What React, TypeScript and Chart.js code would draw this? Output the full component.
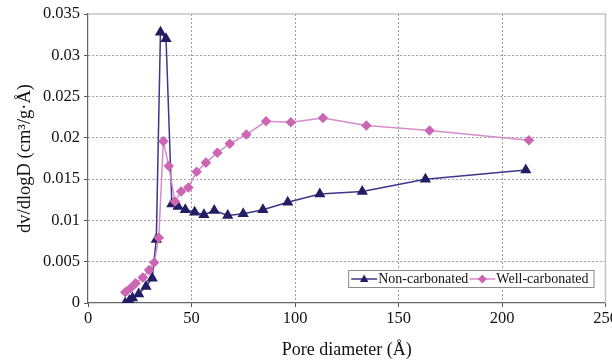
import React, { useEffect, useRef } from "react";
import { Chart, registerables } from "chart.js";

Chart.register(...registerables);

const seriesNames = ["Non-carbonated", "Well-carbonated"];
const xTitle = "Pore diameter (Å)";
const yTitle = "dv/dlogD (cm³/g·Å)";

const nonCarbX = [18, 20, 21.5, 24.5, 28, 31, 33, 35, 37.7, 40.5, 43.5, 47, 51.5, 56, 61, 67.5, 75, 84.5, 96.5, 112, 132.5, 163, 211.5];
const nonCarbY = [0, 0.0003, 0.0006, 0.0011, 0.002, 0.003, 0.0077, 0.0328, 0.032, 0.012, 0.0117, 0.0113, 0.011, 0.0107, 0.0112, 0.0106, 0.0108, 0.0113, 0.0122, 0.0132, 0.0135, 0.015, 0.0161];

const wellCarbX = [18, 20.5, 23, 26.5, 29.5, 32, 34.2, 36.4, 39, 42, 45, 48.5, 52.5, 57, 62.5, 68.5, 76.5, 86, 98, 113.5, 134.5, 165, 213];
const wellCarbY = [0.0013, 0.0018, 0.0024, 0.0031, 0.004, 0.0049, 0.0079, 0.0196, 0.0166, 0.0123, 0.0135, 0.014, 0.0159, 0.017, 0.0182, 0.0193, 0.0204, 0.022, 0.0219, 0.0224, 0.0215, 0.0209, 0.0197];

const xTickLabels = ["0", "50", "100", "150", "200", "250"];
const yTickLabels = ["0", "0.005", "0.01", "0.015", "0.02", "0.025", "0.03", "0.035"];

const NAVY = "#231E63";
const NAVY_LINE = "#3B3789";
const PINK = "#CC66B3";
const PINK_LINE = "#D68CC8";
const FONT = '"Liberation Serif", "Times New Roman", serif';

function drawMarker(ctx: CanvasRenderingContext2D, kind: string, x: number, y: number, r: number, color: string) {
  ctx.save();
  ctx.fillStyle = color;
  ctx.beginPath();
  if (kind === "triangle") {
    ctx.moveTo(x, y - r);
    ctx.lineTo(x + r * 0.95, y + r * 0.65);
    ctx.lineTo(x - r * 0.95, y + r * 0.65);
  } else {
    ctx.moveTo(x, y - r);
    ctx.lineTo(x + r, y);
    ctx.lineTo(x, y + r);
    ctx.lineTo(x - r, y);
  }
  ctx.closePath();
  ctx.fill();
  ctx.restore();
}

const framePlugin = {
  id: "frameAndLegend",
  beforeDatasetsDraw(chart: any) {
    const { ctx, chartArea: a } = chart;
    ctx.save();
    ctx.strokeStyle = "#C4C4C4";
    ctx.lineWidth = 1.5;
    ctx.beginPath();
    ctx.moveTo(a.left, a.top);
    ctx.lineTo(a.right, a.top);
    ctx.lineTo(a.right, a.bottom);
    ctx.stroke();
    ctx.restore();
  },
  afterDraw(chart: any) {
    const { ctx, chartArea: a } = chart;
    ctx.save();
    ctx.font = `14px ${FONT}`;
    const sw = 28;
    const w1 = ctx.measureText(seriesNames[0]).width;
    const w2 = ctx.measureText(seriesNames[1]).width;
    const total = 3 + sw + w1 + sw + w2 + 4;
    const right = a.right - 12;
    const bottom = a.bottom - 16;
    const top = bottom - 17;
    const left = right - total;
    ctx.fillStyle = "#FFFFFF";
    ctx.fillRect(left, top, total, bottom - top);
    ctx.strokeStyle = "#8A8A8A";
    ctx.lineWidth = 1;
    ctx.strokeRect(left + 0.5, top + 0.5, total, bottom - top);
    const cy = (top + bottom) / 2 + 0.5;
    const items = [
      { name: seriesNames[0], w: w1, line: NAVY_LINE, color: NAVY, kind: "triangle" },
      { name: seriesNames[1], w: w2, line: PINK_LINE, color: PINK, kind: "diamond" },
    ];
    let x = left + 3;
    for (const it of items) {
      ctx.strokeStyle = it.line;
      ctx.lineWidth = 1.5;
      ctx.beginPath();
      ctx.moveTo(x, cy);
      ctx.lineTo(x + sw - 2, cy);
      ctx.stroke();
      drawMarker(ctx, it.kind, x + (sw - 2) / 2, cy, 4.5, it.color);
      x += sw - 1;
      ctx.fillStyle = "#111111";
      ctx.textBaseline = "middle";
      ctx.textAlign = "left";
      ctx.fillText(it.name, x, cy);
      x += it.w + 1;
    }
    ctx.restore();
  },
};

export default function App() {
  const ref = useRef<HTMLCanvasElement | null>(null);

  useEffect(() => {
    if (!ref.current) return;
    const chart = new Chart(ref.current, {
      type: "line",
      data: {
        datasets: [
          {
            label: seriesNames[0],
            data: nonCarbX.map((x, i) => ({ x, y: nonCarbY[i] })),
            borderColor: NAVY_LINE,
            backgroundColor: NAVY,
            pointBackgroundColor: NAVY,
            pointBorderColor: NAVY,
            pointStyle: "triangle",
            pointRadius: 5,
            borderWidth: 1.5,
            tension: 0,
            order: 1,
          },
          {
            label: seriesNames[1],
            data: wellCarbX.map((x, i) => ({ x, y: wellCarbY[i] })),
            borderColor: PINK_LINE,
            backgroundColor: PINK,
            pointBackgroundColor: PINK,
            pointBorderColor: PINK,
            pointStyle: "rectRot",
            pointRadius: 4.2,
            borderWidth: 1.5,
            tension: 0,
            order: 0,
          },
        ],
      },
      options: {
        animation: false,
        responsive: false,
        maintainAspectRatio: false,
        layout: { padding: { top: 14, right: 5, left: 0, bottom: 0 } },
        plugins: {
          legend: { display: false },
          tooltip: { enabled: false },
        },
        scales: {
          x: {
            type: "linear",
            min: 0,
            max: 250,
            ticks: {
              stepSize: 50,
              color: "#111",
              font: { family: FONT, size: 16.5 },
              padding: 2,
              maxRotation: 0,
              callback: (_v: any, i: number) => xTickLabels[i],
            },
            grid: {
              color: (c: any) => (c.tick && (c.tick.value === 250 || c.tick.value === 0) ? "rgba(0,0,0,0)" : "#9A9A9A"),
              lineWidth: 1,
              tickLength: 4,
              tickColor: "#555",
              tickBorderDash: [4, 0],
            } as any,
            border: { display: true, color: "#666", width: 1.2, dash: [2, 2] },
            title: {
              display: true,
              text: xTitle,
              color: "#111",
              font: { family: FONT, size: 18 },
              padding: { top: 0, bottom: 2 },
            },
            afterFit: (s: any) => {
              s.height = 60;
              s.paddingLeft = 0;
              s.paddingRight = 0;
            },
          },
          y: {
            type: "linear",
            min: 0,
            max: 0.035,
            ticks: {
              stepSize: 0.005,
              color: "#111",
              font: { family: FONT, size: 16.5 },
              padding: 4,
              callback: (_v: any, i: number) => yTickLabels[i],
            },
            grid: {
              color: (c: any) => (c.tick && (c.index === 7 || c.index === 0) ? "rgba(0,0,0,0)" : "#9A9A9A"),
              lineWidth: 1,
              tickLength: 4,
              tickColor: "#555",
              tickBorderDash: [4, 0],
            } as any,
            border: { display: true, color: "#666", width: 1.2, dash: [2, 2] },
            title: {
              display: true,
              text: yTitle,
              color: "#111",
              font: { family: FONT, size: 18.5 },
              padding: { top: 14, bottom: 0 },
            },
            afterFit: (s: any) => {
              s.width = 88;
              s.paddingTop = 0;
              s.paddingBottom = 0;
            },
          },
        },
      },
      plugins: [framePlugin],
    });
    return () => chart.destroy();
  }, []);

  return (
    <div style={{ position: "fixed", left: 0, top: 0, width: 612, height: 363, background: "#fff" }}>
      <canvas ref={ref} width={612} height={363} style={{ width: 612, height: 363, display: "block" }} />
    </div>
  );
}
